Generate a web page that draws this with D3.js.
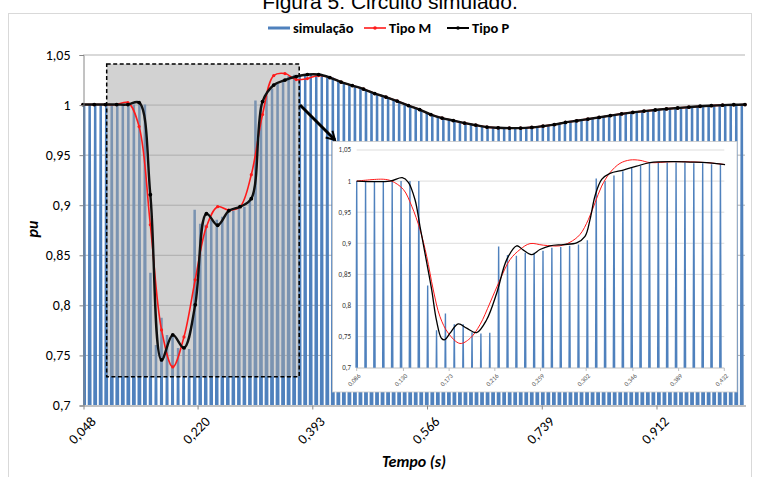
<!DOCTYPE html>
<html>
<head>
<meta charset="utf-8">
<script src="https://cdn.jsdelivr.net/npm/d3@7"></script>
<style>
  body { margin: 0; background: #fff; }
  text { font-family: Carlito, Calibri, Lato, sans-serif; }
</style>
</head>
<body>
<div class="display"></div>
<script>
const WIDTH = 757;
const HEIGHT = 477;

// ---- main chart data ----
// Tipo M / Tipo P: one value per category, categories evenly spaced from T_START to T_END
const T_START = 0.048;
const T_END = 1.0462;
const tipoM = [1, 1, 1, 1, 1.002, 0.978, 0.88, 0.775, 0.738, 0.768,
  0.825, 0.878, 0.898, 0.8945, 0.898, 0.93, 0.99, 1.029, 1.031, 1.025,
  1.026, 1.029, 1.027, 1.0225, 1.019, 1.0155, 1.011, 1.0075, 1.0035, 0.999,
  0.995, 0.99, 0.9865, 0.984, 0.9815, 0.9795, 0.9775, 0.9768, 0.9765, 0.9765,
  0.9772, 0.9785, 0.98, 0.9822, 0.9838, 0.9855, 0.9872, 0.989, 0.9907, 0.9922,
  0.9935, 0.9946, 0.9957, 0.9966, 0.9974, 0.9983, 0.9989, 0.9994, 0.9998, 1];
const tipoP = [1, 1, 1, 1, 1, 1.002, 0.91, 0.745, 0.77, 0.757,
  0.8, 0.891, 0.8795, 0.894, 0.898, 0.906, 1.003, 1.0195, 1.0245, 1.028,
  1.03, 1.03, 1.027, 1.0225, 1.019, 1.0155, 1.011, 1.0075, 1.0035, 0.999,
  0.995, 0.99, 0.9865, 0.984, 0.9815, 0.9795, 0.9775, 0.9768, 0.9765, 0.9765,
  0.9772, 0.9785, 0.98, 0.9822, 0.9838, 0.9855, 0.9872, 0.989, 0.9907, 0.9922,
  0.9935, 0.9946, 0.9957, 0.9966, 0.9974, 0.9983, 0.9989, 0.9994, 0.9998, 1];

// simulação: peak of each half cycle (120 Hz spikes)
const SIM_START = 0.0497;
const SIM_STEP = 1 / 120;
const simPeaks = [1, 1, 1, 1, 1, 1, 1, 1, 1, 1, 1, 1,
  0.832, 0.76, 0.787, 0.77, 0.77, 0.757, 0.755, 0.756, 0.895, 0.881,
  0.88, 0.885, 0.885, 0.888, 0.893, 0.894, 0.896, 0.898, 0.905, 1.004,
  1.0, 1.009, 1.016, 1.021, 1.025, 1.0285, 1.0297, 1.0297, 1.0297, 1.0297,
  1.0285, 1.0285, 1.027, 1.027,
  1.0236, 1.0215, 1.0198, 1.018, 1.0163, 1.0146, 1.0124, 1.0103, 1.0085, 1.0067,
  1.0048, 1.0027, 1.0005, 0.9983, 0.9963, 0.9943, 0.9918, 0.9895, 0.9878, 0.9862,
  0.985, 0.9837, 0.9825, 0.9813, 0.9803, 0.9793, 0.9784, 0.9775, 0.9771, 0.9768,
  0.9765, 0.9765, 0.9765, 0.9765,
  0.9768, 0.9772, 0.9777, 0.9784, 0.9792, 0.98, 0.981, 0.982, 0.9829, 0.9837,
  0.9846, 0.9854, 0.9862, 0.987, 0.9879, 0.9888, 0.9896, 0.9905, 0.9912, 0.992,
  0.9926, 0.9932, 0.9938, 0.9944, 0.995, 0.9955, 0.996, 0.9964, 0.9968, 0.9972,
  0.9976, 0.998, 0.9984, 0.9987, 0.999, 0.9992, 0.9994, 0.9996, 0.9998, 0.9999];

const xTickLabels = ['0,048', '0,220', '0,393', '0,566', '0,739', '0,912'];
const yTickLabels = ['0,7', '0,75', '0,8', '0,85', '0,9', '0,95', '1', '1,05'];

// ---- inset (zoom of the fault) ----
const insetTimesP = [0.086, 0.1173, 0.1289, 0.1346, 0.1409, 0.1456, 0.152, 0.1566, 0.161, 0.1659,
  0.169, 0.1738, 0.1816, 0.1895, 0.1989, 0.2083, 0.2178, 0.2272, 0.2366, 0.2429,
  0.2507, 0.2585, 0.268, 0.2804, 0.293, 0.3009, 0.3056, 0.3103, 0.3166, 0.3244,
  0.3369, 0.3495, 0.3621, 0.384, 0.3997, 0.4154, 0.4327];
const insetP = [1, 1, 1.0055, 0.998, 0.97, 0.927, 0.868, 0.825, 0.777, 0.747,
  0.745, 0.7555, 0.7705, 0.7635, 0.7565, 0.777, 0.82, 0.8737, 0.896, 0.889,
  0.8818, 0.89, 0.896, 0.898, 0.9006, 0.911, 0.938, 0.976, 1.0027, 1.0124,
  1.0178, 1.024, 1.0297, 1.0313, 1.0306, 1.0297, 1.0265];
const insetTimesM = [0.086, 0.111, 0.119, 0.1299, 0.1378, 0.1456, 0.1519, 0.1581, 0.1644, 0.1722,
  0.1832, 0.1926, 0.202, 0.2114, 0.2209, 0.2303, 0.2397, 0.2491, 0.2616, 0.2773,
  0.2867, 0.2961, 0.304, 0.3103, 0.3166, 0.3244, 0.3338, 0.3432, 0.3527, 0.3621,
  0.384, 0.4154, 0.4327];
const insetM = [1, 1.003, 1, 0.9866, 0.9597, 0.922, 0.879, 0.825, 0.782, 0.7555,
  0.739, 0.747, 0.769, 0.804, 0.8415, 0.8737, 0.89, 0.8995, 0.897, 0.896,
  0.9016, 0.914, 0.938, 0.965, 0.992, 1.0135, 1.0285, 1.0339, 1.0334, 1.0297,
  1.0313, 1.0297, 1.0265];
const INSET_SIM_START = 0.086;
const INSET_SIM_STEP = 0.00835;
const insetSimPeaks = [1, 1, 1, 1, 1, 1, 1, 1, 0.832, 0.76,
  0.787, 0.77, 0.77, 0.757, 0.755, 0.756, 0.895, 0.881, 0.88, 0.885,
  0.885, 0.888, 0.893, 0.894, 0.896, 0.898, 0.905, 1.004, 1.0, 1.009,
  1.016, 1.021, 1.025, 1.0285, 1.0297, 1.0297, 1.0297, 1.0297, 1.0285, 1.0285,
  1.027, 1.027];
const insetXLabels = ['0,086', '0,130', '0,173', '0,216', '0,259', '0,302', '0,346', '0,389', '0,432'];

const BLUE = '#4f81bd';
const RED = '#ff1a1a';

const num = s => +s.replace(',', '.');

let svg, x, y;

function setupSvg() {
  svg = d3.select('.display')
    .append('svg')
    .attr('width', WIDTH)
    .attr('height', HEIGHT);

  svg.append('rect')
    .attr('x', 8.5).attr('y', 13.5)
    .attr('width', 743).attr('height', 480)
    .attr('fill', '#fff')
    .attr('stroke', '#d9d9d9');

  // the caption sits above the frame and is cropped at the top, as in the source
  svg.append('text')
    .attr('x', 390).attr('y', 9)
    .attr('text-anchor', 'middle')
    .style('font-family', '"Liberation Sans", Arial, sans-serif')
    .style('font-size', '21px')
    .text('Figura 5: Circuito simulado.');
}

// spike waveform: each half cycle is a thin peak, the rest sits under the axis floor
function spikes(start, step, peaks, halfW, floor) {
  const pts = [];
  peaks.forEach((p, i) => {
    const t = start + i * step;
    pts.push([t - halfW, floor], [t, p], [t + halfW, floor]);
  });
  return pts;
}

function drawMain() {
  x = d3.scaleLinear().domain([T_START, T_END]).range([83, 745]);
  y = d3.scaleLinear().domain([0.7, 1.05]).range([405, 54.5]);
  const catStep = (T_END - T_START) / (tipoP.length - 1);
  const catT = i => T_START + i * catStep;

  svg.append('clipPath').attr('id', 'clipMain')
    .append('rect').attr('x', 83).attr('y', 40).attr('width', 662).attr('height', 365);

  // gridlines
  svg.append('g')
    .selectAll('line')
    .data(yTickLabels.slice(1))
    .enter().append('line')
    .attr('x1', 83).attr('x2', 745)
    .attr('y1', d => y(num(d)) + 0.5).attr('y2', d => y(num(d)) + 0.5)
    .attr('stroke', '#b3b3b3');

  const lineSim = d3.line().x(d => x(d[0])).y(d => y(d[1]));
  svg.append('path')
    .attr('clip-path', 'url(#clipMain)')
    .attr('d', lineSim(spikes(SIM_START, SIM_STEP, simPeaks, 0.0015, 0.55)))
    .attr('fill', 'none')
    .attr('stroke', BLUE)
    .attr('stroke-width', 2.5);

  // highlight box for the zoomed region
  svg.append('rect')
    .attr('x', 106.7).attr('y', 64)
    .attr('width', 192.5).attr('height', 312.7)
    .attr('fill', '#a6a6a6')
    .attr('fill-opacity', 0.5)
    .attr('stroke', '#000')
    .attr('stroke-width', 1.5)
    .attr('stroke-dasharray', '4,2.5');

  const lineCat = d3.line()
    .x((d, i) => x(catT(i)))
    .y(d => y(d))
    .curve(d3.curveCatmullRom.alpha(0.5));

  svg.append('path')
    .attr('d', lineCat(tipoM))
    .attr('fill', 'none').attr('stroke', RED).attr('stroke-width', 1.6);
  svg.append('g').selectAll('circle')
    .data(tipoM).enter().append('circle')
    .attr('cx', (d, i) => x(catT(i))).attr('cy', d => y(d))
    .attr('r', 1.6).attr('fill', RED);

  svg.append('path')
    .attr('d', lineCat(tipoP))
    .attr('fill', 'none').attr('stroke', '#111').attr('stroke-width', 2.4);
  svg.append('g').selectAll('circle')
    .data(tipoP).enter().append('circle')
    .attr('cx', (d, i) => x(catT(i))).attr('cy', d => y(d))
    .attr('r', 1.9).attr('fill', '#000');

  // axes
  const yAxis = d3.axisLeft(y)
    .tickValues(yTickLabels.map(num))
    .tickFormat((d, i) => yTickLabels[i])
    .tickSize(4).tickPadding(9);
  const gy = svg.append('g').attr('transform', 'translate(83.5,0.5)').call(yAxis);
  gy.select('.domain').attr('stroke', '#868686');
  gy.selectAll('.tick line').attr('stroke', '#868686');
  gy.selectAll('.tick text')
    .style('font-size', '14px').attr('fill', '#000');

  const xAxis = d3.axisBottom(x)
    .tickValues(xTickLabels.map(num))
    .tickFormat((d, i) => xTickLabels[i])
    .tickSize(4).tickSizeOuter(0);
  const gx = svg.append('g').attr('transform', 'translate(0.5,405.5)').call(xAxis);
  gx.select('.domain').attr('stroke', '#868686');
  gx.selectAll('.tick line').attr('stroke', '#868686');
  gx.selectAll('.tick text')
    .style('font-size', '14px').attr('fill', '#000')
    .attr('text-anchor', 'end')
    .attr('transform', 'translate(2,4) rotate(-45)')
    .attr('dy', '0.7em').attr('dx', '-0.1em');

  svg.append('text')
    .attr('transform', 'translate(38,229) rotate(-90)')
    .attr('text-anchor', 'middle')
    .style('font-size', '16px').style('font-weight', 'bold').style('font-style', 'italic')
    .text('pu');

  svg.append('text')
    .attr('x', 414).attr('y', 467)
    .attr('text-anchor', 'middle')
    .style('font-size', '16px').style('font-weight', 'bold').style('font-style', 'italic')
    .text('Tempo (s)');
}

function drawInset() {
  const ix = d3.scaleLinear().domain([0.086, 0.432]).range([356.7, 724.3]);
  const iy = d3.scaleLinear().domain([0.7, 1.05]).range([367.7, 150]);
  const g = svg.append('g');

  g.append('rect')
    .attr('x', 332.5).attr('y', 141.5)
    .attr('width', 404.5).attr('height', 250.5)
    .attr('fill', '#fff')
    .attr('stroke', '#c8c8c8').attr('stroke-width', 0.8);

  g.append('clipPath').attr('id', 'clipInset')
    .append('rect').attr('x', 354).attr('y', 140).attr('width', 372).attr('height', 227.7);

  g.append('g').selectAll('line')
    .data(yTickLabels.slice(1))
    .enter().append('line')
    .attr('x1', 356.7).attr('x2', 724.3)
    .attr('y1', d => iy(num(d))).attr('y2', d => iy(num(d)))
    .attr('stroke', '#d9d9d9').attr('stroke-width', 0.9);

  g.append('g').selectAll('text')
    .data(yTickLabels)
    .enter().append('text')
    .attr('x', 351).attr('y', d => iy(num(d)))
    .attr('dy', '0.35em')
    .attr('text-anchor', 'end')
    .style('font-size', '7px').attr('fill', '#333')
    .text(d => d);

  g.append('line')
    .attr('x1', 356.7).attr('x2', 724.3)
    .attr('y1', 368).attr('y2', 368)
    .attr('stroke', '#bfbfbf');

  g.append('g').selectAll('line')
    .data(insetXLabels)
    .enter().append('line')
    .attr('x1', d => ix(num(d))).attr('x2', d => ix(num(d)))
    .attr('y1', 368).attr('y2', 371)
    .attr('stroke', '#bfbfbf');

  g.append('g').selectAll('text')
    .data(insetXLabels)
    .enter().append('text')
    .attr('text-anchor', 'end')
    .attr('transform', d => `translate(${ix(num(d)) + 2},374) rotate(-45)`)
    .attr('dy', '0.5em')
    .style('font-size', '6.5px').attr('fill', '#555')
    .text(d => d);

  const lineSim = d3.line().x(d => ix(d[0])).y(d => iy(d[1]));
  g.append('path')
    .attr('clip-path', 'url(#clipInset)')
    .attr('d', lineSim(spikes(INSET_SIM_START, INSET_SIM_STEP, insetSimPeaks, 0.0008, 0.6)))
    .attr('fill', 'none').attr('stroke', BLUE).attr('stroke-width', 1.4);

  const smooth = (ts, vs) => d3.line()
    .x((d, i) => ix(ts[i])).y(d => iy(d))
    .curve(d3.curveCatmullRom.alpha(0.5))(vs);

  g.append('path')
    .attr('d', smooth(insetTimesM, insetM))
    .attr('fill', 'none').attr('stroke', RED).attr('stroke-width', 1);
  g.append('path')
    .attr('d', smooth(insetTimesP, insetP))
    .attr('fill', 'none').attr('stroke', '#000').attr('stroke-width', 1.3);
}

function drawArrow() {
  svg.append('defs').append('marker')
    .attr('id', 'arrowHead')
    .attr('viewBox', '0 0 10 10')
    .attr('refX', 8).attr('refY', 5)
    .attr('markerWidth', 4).attr('markerHeight', 4)
    .attr('orient', 'auto')
    .append('path')
    .attr('d', 'M1,1 L8,5 L1,9')
    .attr('fill', 'none').attr('stroke', '#000').attr('stroke-width', 1.6);

  svg.append('line')
    .attr('x1', 300).attr('y1', 105)
    .attr('x2', 335).attr('y2', 140)
    .attr('stroke', '#000').attr('stroke-width', 3)
    .attr('marker-end', 'url(#arrowHead)');
}

function drawLegend() {
  const items = [
    { name: 'simulação', color: BLUE, x: 268, width: 3, marker: false },
    { name: 'Tipo M', color: RED, x: 364, width: 1.6, marker: true },
    { name: 'Tipo P', color: '#000', x: 447, width: 2, marker: true }
  ];
  const g = svg.append('g');
  items.forEach(it => {
    g.append('line')
      .attr('x1', it.x).attr('x2', it.x + 22)
      .attr('y1', 28).attr('y2', 28)
      .attr('stroke', it.color).attr('stroke-width', it.width);
    if (it.marker) {
      g.append('circle')
        .attr('cx', it.x + 11).attr('cy', 28).attr('r', 1.8).attr('fill', it.color);
    }
    g.append('text')
      .attr('x', it.x + 25).attr('y', 33)
      .style('font-size', '14.5px').style('font-weight', 'bold')
      .text(it.name);
  });
}

setupSvg();
drawMain();
drawInset();
drawArrow();
drawLegend();
</script>
</body>
</html>
